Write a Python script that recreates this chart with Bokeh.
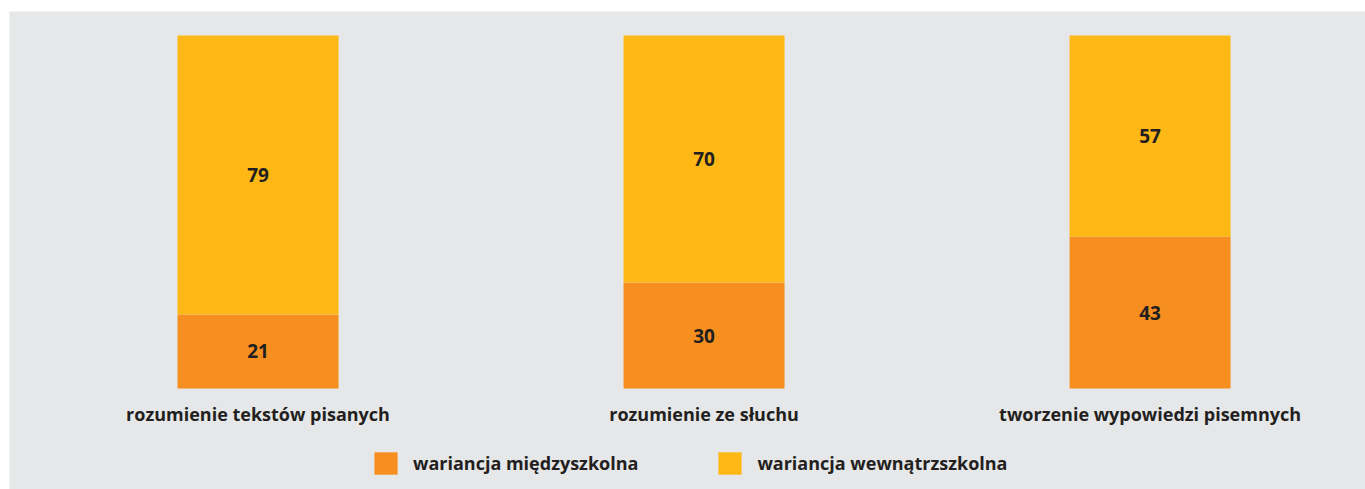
from bokeh.plotting import figure
from bokeh.models import Range1d, Legend, LegendItem, ColumnDataSource, Spacer
from bokeh.layouts import column, row
from bokeh.core.properties import value
from bokeh.embed import file_html
from bokeh.resources import INLINE

categories = ["rozumienie tekstów pisanych", "rozumienie ze słuchu", "tworzenie wypowiedzi pisemnych"]
between = [21, 30, 43]   # wariancja międzyszkolna
within = [79, 70, 57]    # wariancja wewnątrzszkolna
series_names = ["wariancja międzyszkolna", "wariancja wewnątrzszkolna"]

BG = "#e6e7e8"
ORANGE = "#f68f1f"
YELLOW = "#fdb815"
TEXT = "#231f20"
FONT = "Open Sans"

xs = [i + 0.5 for i in range(len(categories))]
src = ColumnDataSource(dict(
    x=xs, cat=categories, between=between, within=within,
    total=[b + w for b, w in zip(between, within)],
    between_lbl=[str(v) for v in between],
    within_lbl=[str(v) for v in within],
    between_mid=[v / 2 for v in between],
    within_mid=[b + w / 2 for b, w in zip(between, within)],
    cat_y=[-7.1] * len(categories),
))

p = figure(width=1356, height=478, output_backend="svg", toolbar_location=None,
           x_range=Range1d(-0.0572, 2.983), y_range=Range1d(-28.61, 106.8),
           min_border_left=0, min_border_right=0, min_border_top=0, min_border_bottom=0)
p.background_fill_color = BG
p.border_fill_color = BG
p.outline_line_color = None
p.grid.visible = False
p.axis.visible = False

r1 = p.vbar(x="x", top="between", bottom=0, width=0.361, source=src,
            fill_color=ORANGE, line_color=None)
r2 = p.vbar(x="x", top="total", bottom="between",
            width=0.361, source=src, fill_color=YELLOW, line_color=None)

for col, ycol in (("between_lbl", "between_mid"), ("within_lbl", "within_mid")):
    p.text(x="x", y=ycol, text=col, source=src, text_align="center",
           text_baseline="middle", text_font=value(FONT), text_font_style="bold",
           text_font_size="19px", text_color=TEXT)

# category labels
p.text(x="x", y="cat_y", text="cat", source=src, text_align="center",
       text_baseline="middle", text_font=value(FONT), text_font_style="bold",
       text_font_size="18px", text_color=TEXT)

legend = Legend(items=[LegendItem(label=series_names[0], renderers=[r1]),
                       LegendItem(label=series_names[1], renderers=[r2])],
                orientation="horizontal", location=(362, 12),
                glyph_width=29, glyph_height=28, label_standoff=13, spacing=77,
                padding=0, margin=0, border_line_color=None,
                background_fill_alpha=0,
                label_text_font=FONT, label_text_font_style="bold",
                label_text_font_size="18px", label_text_color=TEXT,
                label_height=22)
p.add_layout(legend, "center")

layout = row(Spacer(width=9), column(Spacer(height=11), p, spacing=0), spacing=0)
open("out.html", "w").write(file_html(layout, INLINE))
